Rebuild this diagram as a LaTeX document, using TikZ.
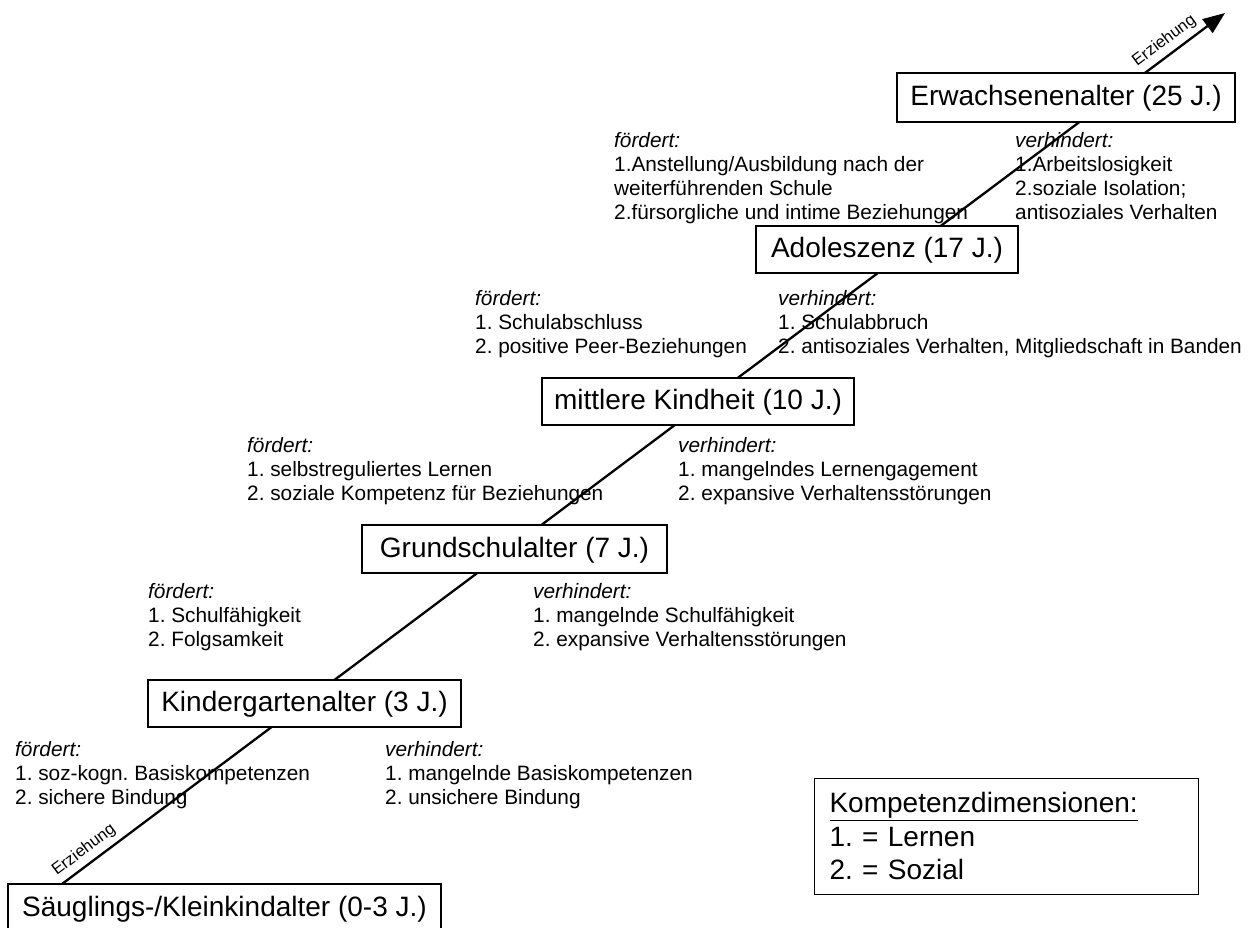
\documentclass[tikz,border=0pt]{standalone}
\usepackage{fontspec}
\setmainfont{Liberation Sans}
\usetikzlibrary{arrows.meta}
\frenchspacing
\begin{document}
\begin{tikzpicture}[x=1pt,y=-1pt,
  stage/.style={draw, fill=white, line width=1.1pt, inner sep=0pt,
    font=\fontsize{28}{32}\selectfont, text height=20pt, text depth=4pt},
  info/.style={anchor=north west, inner sep=0pt, align=left,
    font=\fontsize{20.8}{24.3}\selectfont},
  lbl/.style={font=\fontsize{16.5}{18}\selectfont, inner sep=5pt, sloped, above},
  axis/.style={line width=2.3pt, -{Triangle[length=22pt,width=17pt]}},
  legendbox/.style={draw, line width=1.1pt, anchor=north west, align=left,
    inner xsep=15pt, inner ysep=14pt, text width=354pt,
    font=\fontsize{28}{33.5}\selectfont}]
\useasboundingbox (0,0) rectangle (1253,927);
\clip (0,0) rectangle (1253,927);

% axis line
\coordinate (start) at (62,884);
\coordinate (tip) at (1225,13);
\draw[axis] (start) -- node[lbl, pos=0.026]{Erziehung} node[lbl, pos=0.955]{Erziehung} (tip);

% stages
\node[stage, minimum width=433pt, minimum height=48pt] (s0) at (224.5,908) {Säuglings-/Kleinkindalter (0-3 J.)};
\node[stage, minimum width=313pt, minimum height=47pt] (s1) at (304.5,703.5) {Kindergartenalter (3 J.)};
\node[stage, minimum width=305pt, minimum height=48pt] (s2) at (514.5,549) {Grundschulalter (7 J.)};
\node[stage, minimum width=312pt, minimum height=47pt] (s3) at (698,401.5) {mittlere Kindheit (10 J.)};
\node[stage, minimum width=262pt, minimum height=47pt] (s4) at (887,249.5) {Adoleszenz (17 J.)};
\node[stage, minimum width=338pt, minimum height=49pt] (s5) at (1066,97.5) {Erwachsenenalter (25 J.)};

% info texts (first baseline - 15.2)
\node[info] (f0) at (15,740.8) {\textit{fördert:}\\1. soz-kogn. Basiskompetenzen\\2. sichere Bindung};
\node[info] (v0) at (385,740.8) {\textit{verhindert:}\\1. mangelnde Basiskompetenzen\\2. unsichere Bindung};

\node[info] (f1) at (148,582.8) {\textit{fördert:}\\1. Schulfähigkeit\\2. Folgsamkeit};
\node[info] (v1) at (533,582.8) {\textit{verhindert:}\\1. mangelnde Schulfähigkeit\\2. expansive Verhaltensstörungen};

\node[info] (f2) at (247,436.8) {\textit{fördert:}\\1. selbstreguliertes Lernen\\2. soziale Kompetenz für Beziehungen};
\node[info] (v2) at (678,436.8) {\textit{verhindert:}\\1. mangelndes Lernengagement\\2. expansive Verhaltensstörungen};

\node[info] (f3) at (475,289.8) {\textit{fördert:}\\1. Schulabschluss\\2. positive Peer-Beziehungen};
\node[info] (v3) at (778,289.8) {\textit{verhindert:}\\1. Schulabbruch\\2. antisoziales Verhalten, Mitgliedschaft in Banden};

\node[info] (f4) at (614,131.8) {\textit{fördert:}\\1.Anstellung/Ausbildung nach der\\weiterführenden Schule\\2.fürsorgliche und intime Beziehungen};
\node[info] (v4) at (1015,131.8) {\textit{verhindert:}\\1.Arbeitslosigkeit\\2.soziale Isolation;\\antisoziales Verhalten};

% legend
\node[legendbox] (leg) at (814,778) {\underline{Kompetenzdimensionen:}\\1. = Lernen\\2. = Sozial};
\end{tikzpicture}
\end{document}
